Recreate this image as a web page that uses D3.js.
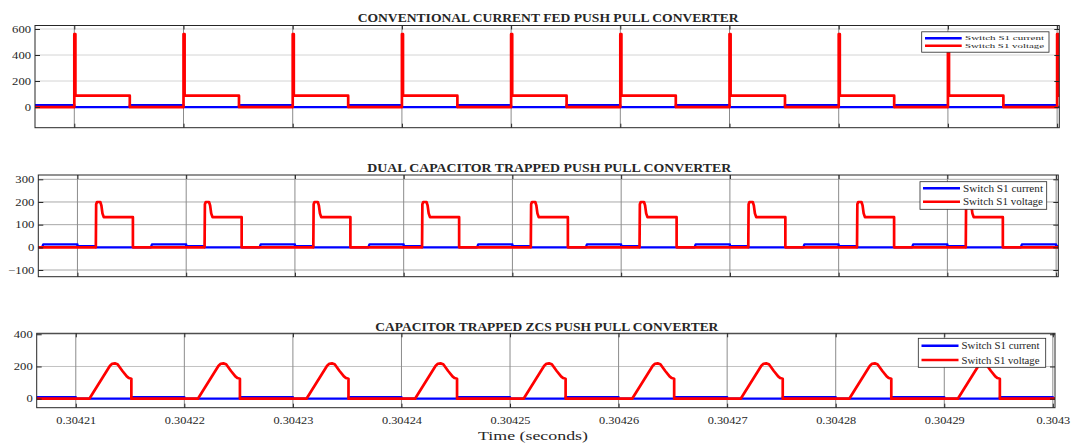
<!DOCTYPE html>
<html><head><meta charset="utf-8">
<script src="https://cdn.jsdelivr.net/npm/d3@7"></script>
<style>
body{margin:0;background:#fff;}
svg text{font-family:"Liberation Serif","Times New Roman",serif;fill:#262626;}
</style></head><body>
<svg id="chart" width="1074" height="443"></svg>
<script>
// ---------------- DATA ----------------
const seriesNames = ["Switch S1 current", "Switch S1 voltage"];
const panelTitles = [
  "CONVENTIONAL CURRENT FED PUSH PULL CONVERTER",
  "DUAL CAPACITOR TRAPPED PUSH PULL CONVERTER",
  "CAPACITOR TRAPPED ZCS PUSH PULL CONVERTER"
];
const xLabel = "Time (seconds)";
const xDomain = [0.3042064, 0.3043002];
const xTickValues = [0.30421, 0.30422, 0.30423, 0.30424, 0.30425, 0.30426, 0.30427, 0.30428, 0.30429, 0.3043];
const xTickLabels = ["0.30421", "0.30422", "0.30423", "0.30424", "0.30425", "0.30426", "0.30427", "0.30428", "0.30429", "0.3043"];
// switching periods (start time of each 10 µs cycle, seconds)
const periodStarts = [0.30420, 0.30421, 0.30422, 0.30423, 0.30424, 0.30425, 0.30426, 0.30427, 0.30428, 0.30429, 0.30430];

const yTicksConv = [0, 200, 400, 600];
const yTicksDual = [-100, 0, 100, 200, 300];
const yTicksZcs = [0, 200, 400];

// one switching cycle: [time offset in µs, value]
const convCurrent = [[0, 0], [5.08, 0], [5.08, 14], [10, 14]];
const convVoltage = [[0, 0], [0, 560], [0.1, 560], [0.1, 87], [5.08, 87], [5.08, 0], [10, 0]];
const dualCurrent = [[0, 5], [1.69, 5], [1.69, 0], [6.75, 0], [6.85, 13], [10, 13]];
const dualVoltage = [[0, 0], [1.69, 0], [1.72, 190], [1.8, 200], [2.1, 200], [2.2, 185], [2.3, 150], [2.42, 133], [5.1, 133], [5.1, 0], [10, 0]];
const zcsCurrent = [[0, 0], [5.12, 0], [5.12, 10], [10, 10]];
const zcsVoltage = [[0, 0], [1.25, 0], [3.15, 205], [3.35, 217], [3.6, 219], [3.85, 214], [4.3, 172], [4.7, 138], [4.9, 128], [5.12, 124], [5.12, 0], [10, 0]];

// ---------------- LAYOUT ----------------
const panels = [
  {title: panelTitles[0], current: convCurrent, voltage: convVoltage, yTicks: yTicksConv, yDomain: [-159, 627],
   x0: 35, x1: 1059.3, y0: 25.5, y1: 127.7, titleY: 17, titleW: 381, hGrid: "#d4d4d4", showX: false,
   legend: {x0: 921.7, x1: 1049, y0: 31.8, y1: 52.2, rows: [38.2, 45.8], lineX: [925, 961.7], textX: 965, fs: 6.5, textW: 79}},
  {title: panelTitles[1], current: dualCurrent, voltage: dualVoltage, yTicks: yTicksDual, yDomain: [-129.5, 319],
   x0: 38.3, x1: 1058.3, y0: 175, y1: 276.7, titleY: 167, titleW: 364, hGrid: "#a8a8a8", showX: false,
   legend: {x0: 920, x1: 1046.7, y0: 181.7, y1: 209.3, rows: [188.3, 201.7], lineX: [923, 960], textX: 963, fs: 11, textW: 80}},
  {title: panelTitles[2], current: zcsCurrent, voltage: zcsVoltage, yTicks: yTicksZcs, yDomain: [-56, 406],
   x0: 36.7, x1: 1055, y0: 333.3, y1: 407.7, titleY: 326, titleW: 343, hGrid: "#c2c2c2", showX: true,
   legend: {x0: 918.3, x1: 1045.7, y0: 338.3, y1: 367.3, rows: [345.7, 360], lineX: [921.5, 958.5], textX: 961.5, fs: 11, textW: 78}}
];

const svg = d3.select("#chart");
const axisColor = "#262626";

function expand(template) {
  const out = [];
  periodStarts.forEach(s => template.forEach(([o, v]) => out.push([s + o * 1e-6, v])));
  return out;
}
function stretch(sel, factor) {
  sel.each(function () {
    const w = this.getComputedTextLength();
    d3.select(this).attr("textLength", w * factor).attr("lengthAdjust", "spacingAndGlyphs");
  });
}

panels.forEach((p, i) => {
  const x = d3.scaleLinear().domain(xDomain).range([p.x0, p.x1]);
  const y = d3.scaleLinear().domain(p.yDomain).range([p.y1, p.y0]);
  const g = svg.append("g");

  // grid
  g.append("g").selectAll("line").data(p.yTicks).join("line")
    .attr("x1", p.x0).attr("x2", p.x1).attr("y1", d => y(d)).attr("y2", d => y(d))
    .attr("stroke", p.hGrid).attr("stroke-width", 1);
  g.append("g").selectAll("line").data(xTickValues).join("line")
    .attr("x1", d => x(d)).attr("x2", d => x(d)).attr("y1", p.y0).attr("y2", p.y1)
    .attr("stroke", "#8c8c8c").attr("stroke-width", 1);

  // clip
  const cid = "clip" + i;
  svg.append("clipPath").attr("id", cid).append("rect")
    .attr("x", p.x0).attr("y", p.y0).attr("width", p.x1 - p.x0).attr("height", p.y1 - p.y0);

  const line = d3.line().x(d => x(d[0])).y(d => y(d[1]));
  const plot = g.append("g").attr("clip-path", `url(#${cid})`);
  plot.append("path").datum(expand(p.current)).attr("d", line)
    .attr("fill", "none").attr("stroke", "#0000ff").attr("stroke-width", 2.3).attr("stroke-linejoin", "round");
  plot.append("path").datum(expand(p.voltage)).attr("d", line)
    .attr("fill", "none").attr("stroke", "#ff0000").attr("stroke-width", 2.7).attr("stroke-linejoin", "round");

  // axes (box with inward ticks)
  const left = d3.axisLeft(y).tickValues(p.yTicks).tickSizeInner(-5).tickSizeOuter(0).tickPadding(9).tickFormat(d3.format("d"));
  const right = d3.axisRight(y).tickValues(p.yTicks).tickSizeInner(-5).tickSizeOuter(0).tickFormat("");
  const bottom = d3.axisBottom(x).tickValues(xTickValues).tickSizeInner(-4).tickSizeOuter(0).tickPadding(12)
    .tickFormat((d, k) => p.showX ? xTickLabels[k] : "");
  const top = d3.axisTop(x).tickValues(xTickValues).tickSizeInner(-4).tickSizeOuter(0).tickFormat("");

  const gl = g.append("g").attr("transform", `translate(${p.x0},0)`).call(left);
  const gr = g.append("g").attr("transform", `translate(${p.x1},0)`).call(right);
  const gb = g.append("g").attr("transform", `translate(0,${p.y1})`).call(bottom);
  const gt = g.append("g").attr("transform", `translate(0,${p.y0})`).call(top);
  [gl, gr, gb, gt].forEach(a => {
    a.select(".domain").remove();
    a.selectAll("line").attr("stroke", axisColor);
    a.selectAll("text").attr("font-family", null).style("font-size", "9.5px").attr("fill", axisColor);
  });
  gl.selectAll("text").attr("dy", "0.34em").attr("x", -4);
  stretch(gl.selectAll("text"), 1.33);
  if (p.showX) {
    gb.selectAll("text").style("font-size", "10px").attr("dy", null).attr("y", 16);
    stretch(gb.selectAll("text"), 1.23);
  }
  g.append("rect").attr("x", p.x0).attr("y", p.y0).attr("width", p.x1 - p.x0).attr("height", p.y1 - p.y0)
    .attr("fill", "none").attr("stroke", axisColor).attr("stroke-width", 1);

  // title
  g.append("text").attr("x", (p.x0 + p.x1) / 2 + 1).attr("y", p.titleY + 4.5)
    .attr("text-anchor", "middle").style("font-size", "13px").style("font-weight", "bold").attr("fill", "#000")
    .attr("textLength", p.titleW).attr("lengthAdjust", "spacingAndGlyphs").text(p.title);

  // legend
  const L = p.legend;
  const lg = g.append("g");
  lg.append("rect").attr("x", L.x0).attr("y", L.y0).attr("width", L.x1 - L.x0).attr("height", L.y1 - L.y0)
    .attr("fill", "#fff").attr("stroke", "#262626").attr("stroke-width", 0.8);
  const colors = ["#0000ff", "#ff0000"];
  seriesNames.forEach((name, k) => {
    lg.append("line").attr("x1", L.lineX[0]).attr("x2", L.lineX[1]).attr("y1", L.rows[k]).attr("y2", L.rows[k])
      .attr("stroke", colors[k]).attr("stroke-width", 2.5);
    lg.append("text").attr("x", L.textX).attr("y", L.rows[k] + L.fs * 0.33)
      .style("font-size", L.fs + "px").attr("fill", "#000")
      .attr("textLength", L.textW).attr("lengthAdjust", "spacingAndGlyphs").text(name);
  });
});

svg.append("text").attr("x", 533).attr("y", 440).attr("text-anchor", "middle")
  .style("font-size", "12px").attr("fill", "#262626")
  .attr("textLength", 110).attr("lengthAdjust", "spacingAndGlyphs").text(xLabel);
</script>
</body></html>
